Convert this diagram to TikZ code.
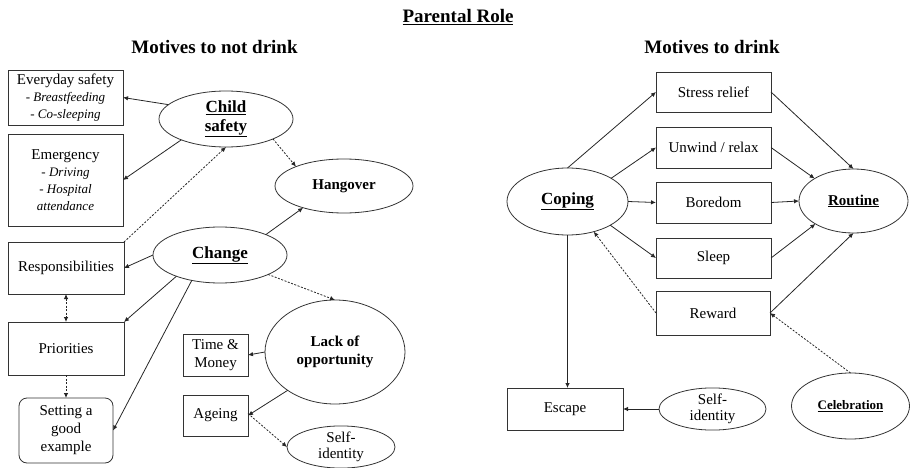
\documentclass[tikz,border=0pt]{standalone}
\usepackage{fontspec}
\setmainfont{Liberation Serif}
\usetikzlibrary{arrows.meta,shapes.geometric}
\tikzset{
  every node/.style={inner sep=0pt, outer sep=0pt, align=center, text=black},
  box/.style={draw=black!80, line width=0.8pt, rectangle, font=\fontsize{15}{18}\selectfont},
  rbox/.style={box, rounded corners=8pt},
  ell/.style={draw=black!80, line width=0.8pt, ellipse, font=\fontsize{17}{21}\selectfont\bfseries},
  ells/.style={ell, font=\fontsize{15}{18}\selectfont\bfseries},
  ellp/.style={draw=black!80, line width=0.8pt, ellipse, font=\fontsize{15}{16}\selectfont},
  sub/.style={font=\fontsize{13}{15.5}\selectfont\itshape},
  heading/.style={font=\fontsize{19}{22}\selectfont\bfseries},
  arr/.style={draw=black!85, line width=0.8pt, -{Latex[length=5pt,width=4.5pt]}},
  darr/.style={arr, dash pattern=on 2pt off 1.5pt},
}
\begin{document}
\begin{tikzpicture}[x=1pt,y=-1pt]
\useasboundingbox (0,0) rectangle (910,468);

% headings
\node[heading] (title) at (458,17) {\underline{Parental Role}};
\node[heading] (hl) at (214.5,47) {Motives to not drink};
\node[heading] (hr) at (712,47) {Motives to drink};

% left side boxes
\node[box, minimum width=115pt, minimum height=55pt] (ev) at (65.5,97.5)
  {Everyday safety\\[-1pt]{\fontsize{13}{15.5}\selectfont - \textit{Breastfeeding}}\\[-1pt]{\fontsize{13}{15.5}\selectfont - \textit{Co-sleeping}}};
\node[box, minimum width=115pt, minimum height=92pt] (em) at (65.5,180)
  {Emergency\\[-1pt]{\fontsize{13}{15.5}\selectfont - \textit{Driving}}\\[-1pt]{\fontsize{13}{15.5}\selectfont - \textit{Hospital}}\\[-1pt]{\fontsize{13}{15.5}\selectfont\itshape attendance}};
\node[box, minimum width=116pt, minimum height=52pt] (resp) at (66,268) {Responsibilities};
\node[box, minimum width=116pt, minimum height=53pt] (prio) at (66,348.5) {Priorities};
\node[rbox, minimum width=94pt, minimum height=65pt] (setx) at (66,430.5) {Setting a\\good\\example};
\node[box, minimum width=65pt, minimum height=42pt] (tm) at (215.5,355) {Time \&\\Money};
\node[box, minimum width=65pt, minimum height=41pt] (age) at (215.5,415.5) {Ageing};

% left side ellipses
\node[ell, minimum width=134pt, minimum height=56pt] (cs) at (226,119) {\underline{Child}\\[-2pt]\underline{safety}};
\node[ells, minimum width=138pt, minimum height=54pt] (hang) at (344,186) {Hangover};
\node[ell, minimum width=134pt, minimum height=56pt] (chg) at (220,255) {\underline{Change}};
\node[ells, minimum width=140pt, minimum height=104pt] (lack) at (335,352) {Lack of\\opportunity};
\node[ellp, minimum width=108pt, minimum height=40pt] (si1) at (341,447) {Self-\\identity};

% right side boxes
\node[box, minimum width=115pt, minimum height=40pt] (sr) at (713.5,92) {Stress relief};
\node[box, minimum width=115pt, minimum height=41pt] (uw) at (713.5,147.5) {Unwind / relax};
\node[box, minimum width=115pt, minimum height=41pt] (bo) at (713.5,202.5) {Boredom};
\node[box, minimum width=115pt, minimum height=40pt] (sl) at (713.5,258) {Sleep};
\node[box, minimum width=114pt, minimum height=44pt] (rw) at (713,313) {Reward};
\node[box, minimum width=116pt, minimum height=42pt] (esc) at (565,409) {Escape};

% right side ellipses
\node[ell, minimum width=121pt, minimum height=67pt] (cop) at (567.5,201.5) {\underline{Coping}};
\node[ells, minimum width=109pt, minimum height=64pt] (rou) at (853.5,201) {\underline{Routine}};
\node[ellp, minimum width=107pt, minimum height=42pt] (si2) at (712.5,409) {Self-\\identity};
\node[ell, minimum width=118pt, minimum height=66pt, font=\fontsize{13}{15}\selectfont\bfseries] (cel) at (850.5,406) {\underline{Celebration}};

% left connectors
\draw[arr] (cs.166) -- (ev.east);
\draw[arr] (cs.205) -- (em.east);
\draw[darr] (cs.337) -- (hang.158);
\draw[darr] (resp.north east) -- (cs.south);
\draw[arr] (chg.24) -- (hang.208);
\draw[arr] (chg.west) -- (resp.east);
\draw[arr] (chg.206) -- (prio.north east);
\draw[arr] (chg.222) -- (setx.east);
\draw[darr] (chg.338) -- (lack.north);
\draw[darr, {Latex[length=5pt,width=4.5pt]}-{Latex[length=5pt,width=4.5pt]}] (resp.south) -- (prio.north);
\draw[darr] (prio.south) -- (setx.north);
\draw[arr] (lack.west) -- (tm.east);
\draw[arr] (lack.219) -- (age.east);
\draw[darr] ([yshift=2pt]age.east) -- (si1.west);

% right connectors
\draw[arr] (cop.north) -- (sr.west);
\draw[arr] (cop.28) -- (uw.west);
\draw[arr] (cop.east) -- (bo.west);
\draw[arr] (cop.331) -- (sl.west);
\draw[darr] (rw.west) -- (cop.311);
\draw[arr] (cop.south) -- (cop.south |- esc.north);
\draw[arr] (sr.east) -- (rou.north);
\draw[arr] (uw.east) -- (rou.150);
\draw[arr] (bo.east) -- (rou.west);
\draw[arr] (sl.east) -- (rou.211);
\draw[arr] (rw.east) -- (rou.south);
\draw[darr] (cel.north) -- (rw.east);
\draw[arr] (si2.west) -- (esc.east);
\end{tikzpicture}
\end{document}
